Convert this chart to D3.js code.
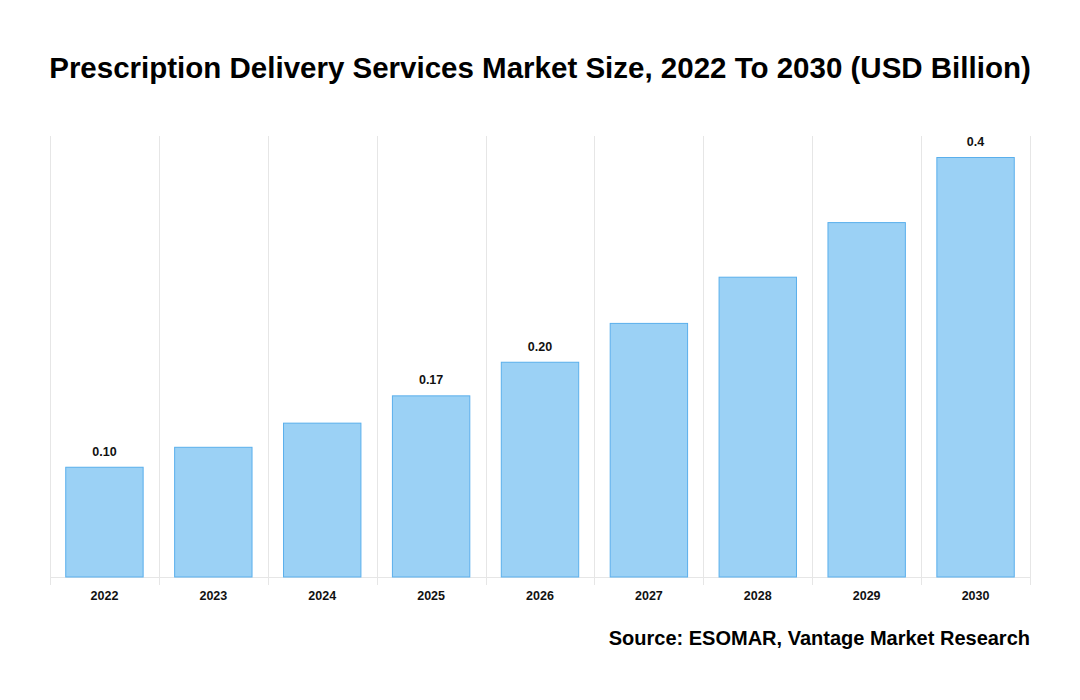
<!DOCTYPE html>
<html>
<head>
<meta charset="utf-8">
<script src="https://cdn.jsdelivr.net/npm/d3@7"></script>
<style>
  body { margin: 0; background: #fff; }
  text { font-family: "Liberation Sans", Arial, sans-serif; }
</style>
</head>
<body>
<div id="chart"></div>
<script>
// chart data
var years = ["2022", "2023", "2024", "2025", "2026", "2027", "2028", "2029", "2030"];
var marketSize = [0.105, 0.124, 0.147, 0.173, 0.205, 0.242, 0.286, 0.338, 0.40];
var valueLabels = ["0.10", "", "", "0.17", "0.20", "", "", "", "0.4"];

var width = 1080, height = 700;
var margin = { top: 136, right: 50, bottom: 123, left: 50 };
var plotW = width - margin.left - margin.right,
    plotH = height - margin.top - margin.bottom;

var svg = d3.select("#chart").append("svg")
    .attr("width", width)
    .attr("height", height);

// Title
svg.append("text")
    .attr("x", width / 2)
    .attr("y", 78)
    .attr("text-anchor", "middle")
    .style("font-size", "29.5px")
    .style("font-weight", "bold")
    .attr("fill", "#000")
    .text("Prescription Delivery Services Market Size, 2022 To 2030 (USD Billion)");

var g = svg.append("g")
    .attr("transform", "translate(" + margin.left + "," + margin.top + ")");

var xScale = d3.scaleBand()
    .domain(years)
    .range([0, plotW])
    .paddingInner(0.28)
    .paddingOuter(0.14);

var yScale = d3.scaleLinear()
    .domain([0, 0.42])
    .range([plotH, 0]);

// vertical grid lines at band edges
var edges = years.map(function(d) { return xScale(d) - xScale.step() * xScale.paddingOuter(); });
edges.push(plotW);
g.selectAll(".grid")
    .data(edges)
    .enter()
    .append("line")
    .attr("class", "grid")
    .attr("x1", function(d) { return Math.round(d) + 0.5; })
    .attr("x2", function(d) { return Math.round(d) + 0.5; })
    .attr("y1", 0)
    .attr("y2", plotH + 8)
    .attr("stroke", "#e6e6e6")
    .attr("stroke-width", 1);

// baseline
g.append("line")
    .attr("x1", 0)
    .attr("x2", plotW)
    .attr("y1", plotH + 0.5)
    .attr("y2", plotH + 0.5)
    .attr("stroke", "#e6e6e6");

// bars
g.selectAll(".bar")
    .data(marketSize)
    .enter()
    .append("rect")
    .attr("class", "bar")
    .attr("fill", "#9bd1f5")
    .attr("stroke", "#5aafec")
    .attr("stroke-width", 1)
    .attr("x", function(d, i) { return xScale(years[i]) + 0.5; })
    .attr("width", xScale.bandwidth() - 1)
    .attr("y", function(d) { return yScale(d) + 0.5; })
    .attr("height", function(d) { return plotH - yScale(d) - 0.5; });

// value labels
g.selectAll(".val")
    .data(marketSize)
    .enter()
    .append("text")
    .attr("class", "val")
    .attr("x", function(d, i) { return xScale(years[i]) + xScale.bandwidth() / 2; })
    .attr("y", function(d) { return yScale(d) - 11; })
    .attr("text-anchor", "middle")
    .style("font-size", "12.5px")
    .style("font-weight", "bold")
    .attr("fill", "#111")
    .text(function(d, i) { return valueLabels[i]; });

// x axis labels
var xAxis = d3.axisBottom(xScale).tickSize(0).tickPadding(14);
var xg = g.append("g")
    .attr("transform", "translate(0," + plotH + ")")
    .call(xAxis);
xg.select(".domain").remove();
xg.selectAll("text")
    .style("font-size", "12.5px")
    .style("font-weight", "bold")
    .style("font-family", "'Liberation Sans', Arial, sans-serif")
    .attr("fill", "#111");

// source
svg.append("text")
    .attr("x", width - margin.right)
    .attr("y", 645)
    .attr("text-anchor", "end")
    .style("font-size", "20px")
    .style("font-weight", "bold")
    .attr("fill", "#000")
    .text("Source: ESOMAR, Vantage Market Research");
</script>
</body>
</html>
